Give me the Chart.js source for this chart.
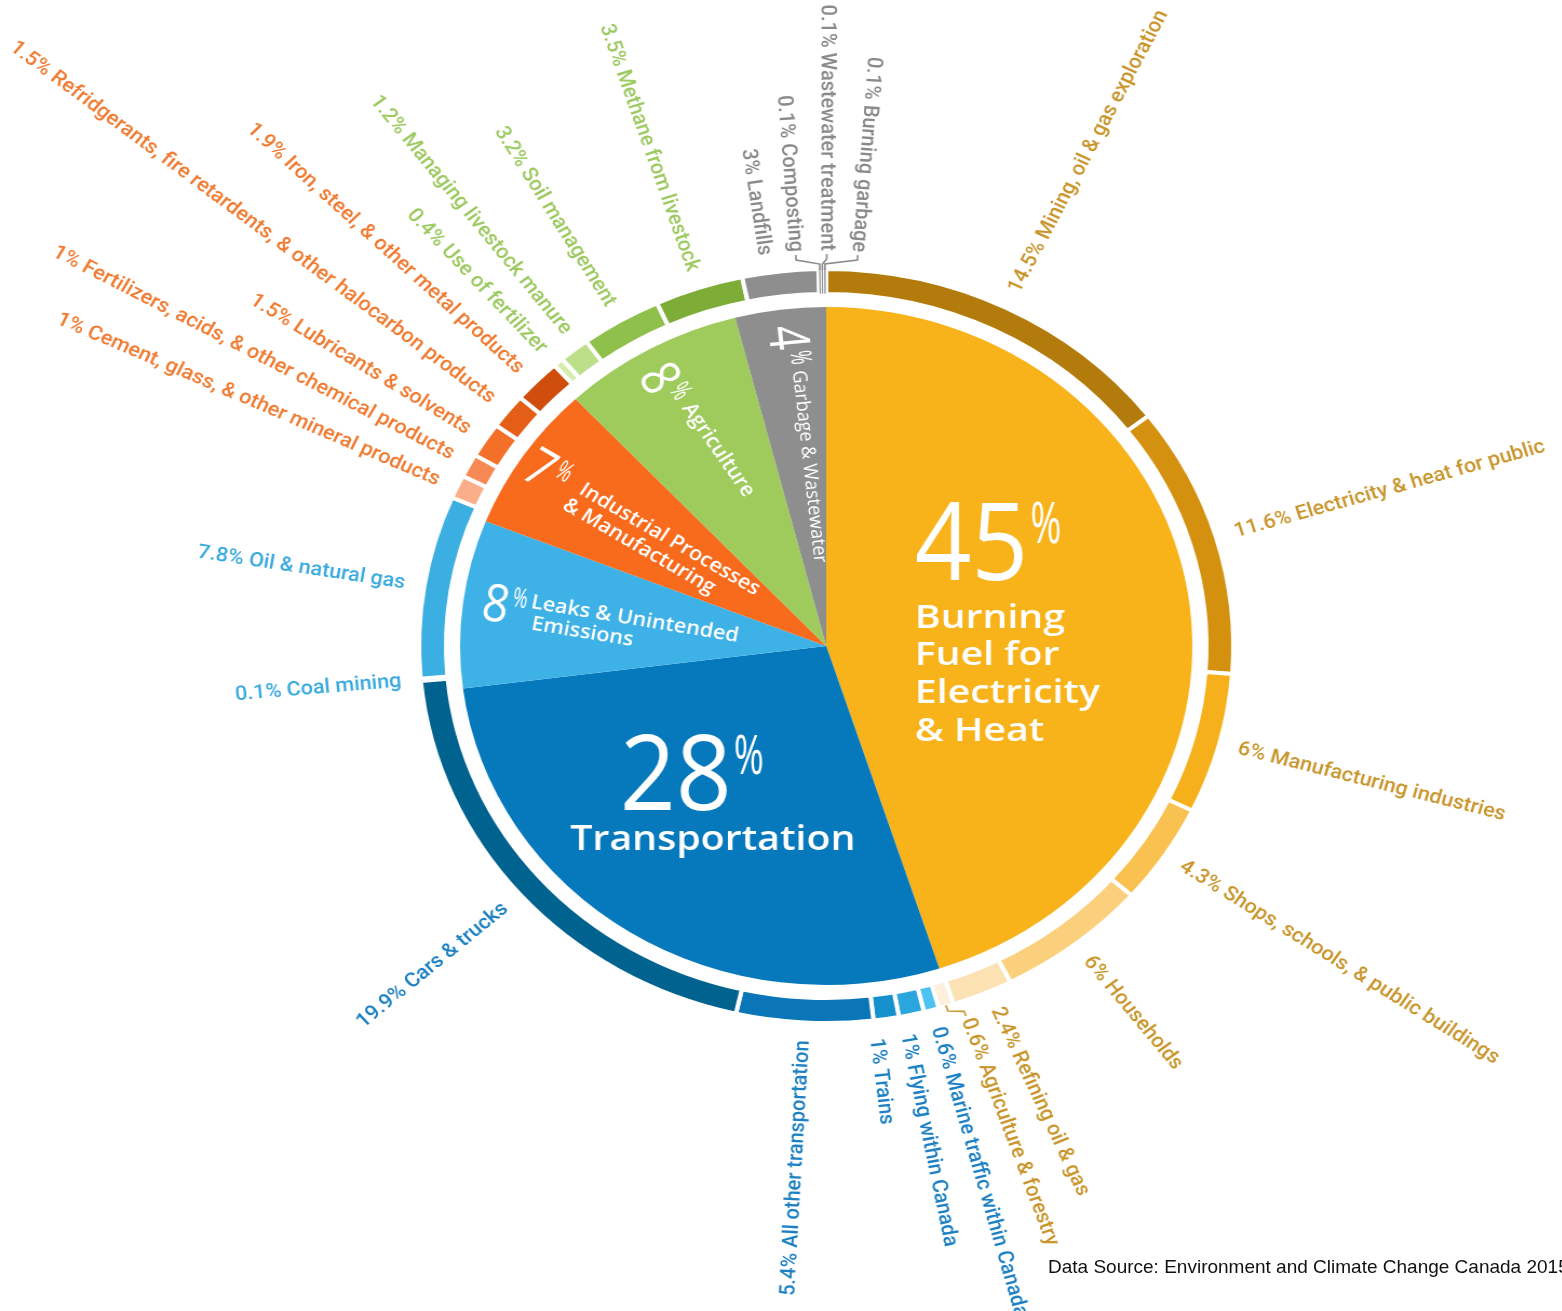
<!DOCTYPE html>
<html><head><meta charset="utf-8">
<script src="https://cdn.jsdelivr.net/npm/chart.js@4"></script>
<style>
html,body{margin:0;padding:0;background:#fff;overflow:hidden;width:1562px;height:1311px}
#wrap{position:absolute;left:0;top:0;width:1447px;height:1311px;transform:scaleX(1.08);transform-origin:0 0}
#note{position:absolute;left:1048px;top:1257px;font:19px/1 "Liberation Sans",Arial,sans-serif;color:#111;white-space:nowrap}
</style></head><body>
<div id="wrap"><canvas id="c"></canvas></div>
<div id="note">Data Source: Environment and Climate Change Canada 2015</div>
<script>
// ---- data ----
const sectorNames = ['Burning Fuel for Electricity & Heat', 'Transportation', 'Leaks & Unintended Emissions',
  'Industrial Processes & Manufacturing', 'Agriculture', 'Garbage & Wastewater'];
const sectorShares = [45, 28, 8, 7, 8, 4];
const sectorLines = [['Burning', 'Fuel for', 'Electricity', '& Heat'], ['Transportation'],
  ['Leaks & Unintended', 'Emissions'], ['Industrial Processes', '& Manufacturing'], ['Agriculture'], ['Garbage & Wastewater']];

const subNames = ['Mining, oil & gas exploration', 'Electricity & heat for public', 'Manufacturing industries',
  'Shops, schools, & public buildings', 'Households', 'Refining oil & gas', 'Agriculture & forestry',
  'Marine traffic within Canada', 'Flying within Canada', 'Trains', 'All other transportation', 'Cars & trucks',
  'Coal mining', 'Oil & natural gas',
  'Cement, glass, & other mineral products', 'Fertilizers, acids, & other chemical products', 'Lubricants & solvents',
  'Refridgerants, fire retardents, & other halocarbon products', 'Iron, steel, & other metal products',
  'Use of fertilizer', 'Managing livestock manure', 'Soil management', 'Methane from livestock',
  'Landfills', 'Composting', 'Wastewater treatment', 'Burning garbage'];
const subShares = [14.5, 11.6, 6, 4.3, 6, 2.4, 0.6, 0.6, 1, 1, 5.4, 19.9, 0.1, 7.8, 1, 1, 1.5, 1.5, 1.9,
  0.4, 1.2, 3.2, 3.5, 3, 0.1, 0.1, 0.1];
const subSector = [0, 0, 0, 0, 0, 0, 0, 1, 1, 1, 1, 1, 2, 2, 3, 3, 3, 3, 3, 4, 4, 4, 4, 5, 5, 5, 5];

// ---- styles ----
const sectorColors = ['#F8B31A', '#0679BD', '#3EB2E6', '#F86A1C', '#9ECB5C', '#8E8E8E'];
const subColors = ['#B27B0C', '#D4910F', '#F6B01B', '#F9C14F', '#FBD07D', '#FCE1B3', '#FDEFD9',
  '#4CC3F1', '#2BA5DE', '#1791CD', '#0A75B7', '#00628E', '#74C8EE', '#3BAFE2',
  '#FBAE8A', '#F88954', '#F46F28', '#E45E17', '#CF4E0E', '#D6EDAE', '#BEDF8A', '#8FC04B', '#7DAD37',
  '#8E8E8E', '#8E8E8E', '#8E8E8E', '#8E8E8E'];
const labelColors = ['#C9952C', '#1C80C2', '#39A9DE', '#EF7A30', '#9CC960', '#8A8A8A'];

// text layout of the white labels inside the pie (relative to pie centre)
const innerLayout = [
  {ox: 82, oy: 0, rot: 0, num: {x: 0, y: -66, size: 108, sx: 0.85}, lines: [[0, -18], [0, 19], [0, 57], [0, 95]], size: 33, weight: 600, sx: 1.1},
  {ox: -237, oy: 204, rot: 0, num: {x: 46, y: -40, size: 104, sx: 0.87}, lines: [[0, 0]], size: 34, weight: 600, sx: 1.07},
  {ox: -274, oy: -38, rot: 10, num: {x: -44, y: 19, size: 52, sx: 0.82}, lines: [[0, 0], [4, 21]], size: 20, weight: 600, sx: 1},
  {ox: -230, oy: -153, rot: 32, num: {x: -55, y: 15, size: 52, sx: 0.82}, lines: [[0, 0], [-5, 21]], size: 20, weight: 600, sx: 1},
  {ox: -134, oy: -238, rot: 57, num: {x: -48, y: 18, size: 52, sx: 0.82}, lines: [[0, 0]], size: 20, weight: 600, sx: 1},
  {ox: -31, oy: -275, rot: 84, num: {x: -46, y: 18, size: 52, sx: 0.82}, lines: [[0, 0]], size: 18, weight: 500, sx: 1}
];

function txt(ctx, s, x, y, font, sx) {
  ctx.save(); ctx.translate(x, y); ctx.scale(sx || 1, 1); ctx.font = font; ctx.fillText(s, 0, 0); ctx.restore();
}

const labelPlugin = {
  id: 'labels',
  afterDraw(chart) {
    const ctx = chart.ctx;
    // ---- outer ring labels ----
    const arcs = chart.getDatasetMeta(0).data;
    const n = arcs.length;
    const cx = arcs[0].x, cy = arcs[0].y;
    const R = arcs[0].outerRadius;
    const r0 = R + 18;
    const mids = arcs.map(a => (a.startAngle + a.endAngle) / 2);
    const spans = arcs.map(a => a.endAngle - a.startAngle);
    const ang = mids.slice();
    const sep = 29 / r0;
    for (let it = 0; it < 400; it++) {
      for (let i = 1; i < n; i++) {
        const d = ang[i] - ang[i - 1];
        if (d < sep) { const p = (sep - d) / 2; ang[i - 1] -= p; ang[i] += p; }
      }
    }
    const P = (r, a) => [cx + r * Math.cos(a), cy + r * Math.sin(a)];
    const deg = Math.PI / 180;
    for (let i = 0; i < n; i++) {
      const col = labelColors[subSector[i]];
      const diff = Math.abs(ang[i] - mids[i]);
      if (diff > spans[i] / 2 + 1 * deg || (spans[i] < 0.6 * deg && diff > 0.1 * deg)) {
        ctx.save();
        ctx.strokeStyle = col; ctx.lineWidth = 1.6;
        ctx.beginPath();
        let p = P(R - 1, mids[i]); ctx.moveTo(p[0], p[1]);
        p = P(R + 5, mids[i]); ctx.lineTo(p[0], p[1]);
        p = P(r0 - 8, ang[i]); ctx.lineTo(p[0], p[1]);
        p = P(r0 - 3, ang[i]); ctx.lineTo(p[0], p[1]);
        ctx.stroke();
        ctx.restore();
      }
      const right = Math.cos(mids[i]) >= 0;
      ctx.save();
      ctx.translate(cx, cy);
      ctx.rotate(right ? ang[i] : ang[i] + Math.PI);
      ctx.fillStyle = col;
      ctx.font = '500 20px Roboto, "Open Sans", sans-serif';
      ctx.textAlign = right ? 'left' : 'right';
      ctx.textBaseline = 'middle';
      ctx.fillText(subShares[i] + '% ' + subNames[i], right ? r0 : -r0, 0);
      ctx.restore();
    }
    // ---- inner pie labels ----
    const pm = chart.getDatasetMeta(2).data;
    const px = pm[0].x, py = pm[0].y;
    innerLayout.forEach((L, i) => {
      ctx.save();
      ctx.translate(px + L.ox, py + L.oy);
      ctx.rotate(L.rot * Math.PI / 180);
      ctx.fillStyle = '#fff';
      ctx.textAlign = 'left';
      ctx.textBaseline = 'alphabetic';
      const numStr = String(sectorShares[i]);
      const nf = `400 ${L.num.size}px "Open Sans", sans-serif`;
      ctx.font = nf;
      const nw = ctx.measureText(numStr).width * L.num.sx;
      txt(ctx, numStr, L.num.x, L.num.y, nf, L.num.sx);
      const ps = L.num.size * 0.52;
      const pctY = L.num.y - 0.714 * L.num.size + 0.714 * ps;
      txt(ctx, '%', L.num.x + nw + 2, pctY, `400 ${ps}px "Open Sans", sans-serif`, 0.62);
      sectorLines[i].forEach((line, j) => {
        txt(ctx, line, L.lines[j][0], L.lines[j][1], `${L.weight} ${L.size}px "Open Sans", sans-serif`, L.sx);
      });
      ctx.restore();
    });
  }
};

new Chart(document.getElementById('c'), {
  type: 'doughnut',
  data: {
    labels: subNames,
    datasets: [
      {
        label: 'Sub-sectors',
        data: subShares,
        backgroundColor: subColors,
        borderColor: '#ffffff',
        borderWidth: c => (subShares[c.dataIndex] < 0.2 ? 1 : 4),
        weight: 25
      },
      {
        label: 'gap',
        data: [1],
        backgroundColor: 'rgba(0,0,0,0)',
        borderWidth: 0,
        weight: 13
      },
      {
        label: 'Sectors',
        data: sectorShares,
        backgroundColor: sectorColors,
        borderWidth: 0,
        weight: 339
      }
    ]
  },
  options: {
    responsive: true,
    maintainAspectRatio: false,
    animation: false,
    devicePixelRatio: 1,
    events: [],
    cutout: 0,
    radius: 377,
    hoverOffset: 0,
    layout: {padding: {left: 83, right: 0, top: 0, bottom: 19}},
    plugins: {legend: {display: false}, tooltip: {enabled: false}}
  },
  plugins: [labelPlugin]
});
</script>
</body></html>
